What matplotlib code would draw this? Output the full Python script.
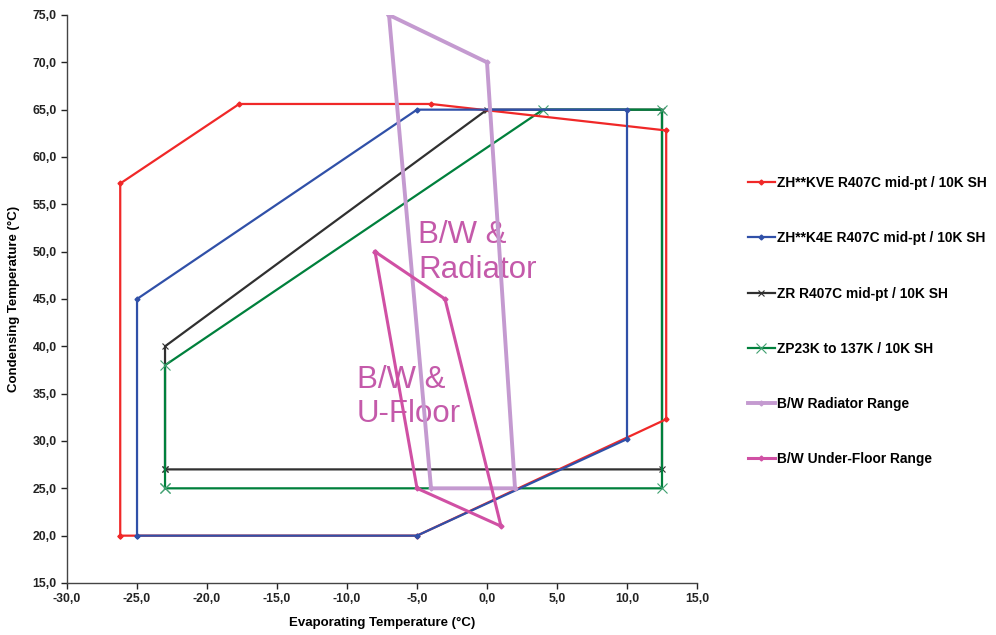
import matplotlib
matplotlib.use("Agg")
import matplotlib.pyplot as plt
from matplotlib.ticker import FuncFormatter

# Envelope outlines: (evaporating, condensing) temperatures in degC
zh_kve_evap = [-26.2, -26.2, -17.7, -4.0, 12.8, 12.8, -5.0, -26.2]
zh_kve_cond = [20.0, 57.2, 65.6, 65.6, 62.8, 32.3, 20.0, 20.0]

zh_k4e_evap = [-25.0, -25.0, -5.0, 10.0, 10.0, -5.0, -25.0]
zh_k4e_cond = [20.0, 45.0, 65.0, 65.0, 30.2, 20.0, 20.0]

zr_evap = [-23.0, -23.0, 0.0, 12.5, 12.5, -23.0]
zr_cond = [27.0, 40.0, 65.0, 65.0, 27.0, 27.0]

zp_evap = [-23.0, -23.0, 4.0, 12.5, 12.5, -23.0]
zp_cond = [25.0, 38.0, 65.0, 65.0, 25.0, 25.0]

radiator_evap = [-7.0, 0.0, 2.0, -4.0, -7.0]
radiator_cond = [75.0, 70.0, 25.0, 25.0, 75.0]

ufloor_evap = [-8.0, -3.0, 1.0, -5.0, -8.0]
ufloor_cond = [50.0, 45.0, 21.0, 25.0, 50.0]

labels = [
    "ZH**KVE R407C mid-pt / 10K SH",
    "ZH**K4E R407C mid-pt / 10K SH",
    "ZR R407C mid-pt / 10K SH",
    "ZP23K to 137K / 10K SH",
    "B/W Radiator Range",
    "B/W Under-Floor Range",
]

plt.rcParams["font.family"] = ["Liberation Sans", "DejaVu Sans"]

fig = plt.figure(figsize=(9.96, 6.35), dpi=100)
ax = fig.add_axes([0.0673, 0.0819, 0.6325, 0.8945])

ax.plot(zh_kve_evap, zh_kve_cond, color="#f02828", lw=1.6, marker="D", ms=2.5, label=labels[0], zorder=3)
ax.plot(zh_k4e_evap, zh_k4e_cond, color="#3050a8", lw=1.6, marker="D", ms=2.5, label=labels[1], zorder=4)
ax.plot(zr_evap, zr_cond, color="#303030", lw=1.6, marker="x", ms=4, mew=0.8, label=labels[2], zorder=2)
ax.plot(zp_evap, zp_cond, color="#00803c", lw=1.6, marker="x", ms=7, mew=0.8,
        markeredgecolor="#40a070", label=labels[3], zorder=2)
ax.plot(radiator_evap, radiator_cond, color="#c49ad0", lw=2.8, marker="D", ms=2.5, label=labels[4], zorder=5)
ax.plot(ufloor_evap, ufloor_cond, color="#d050a4", lw=2.2, marker="D", ms=2.5, label=labels[5], zorder=6)

txt_color = "#c45aaa"
ax.text(-4.9, 53.35, "B/W &\nRadiator", fontsize=22.5, color=txt_color, ha="left", va="top", linespacing=1.2)
ax.text(-9.3, 38.05, "B/W &\nU-Floor", fontsize=22.5, color=txt_color, ha="left", va="top", linespacing=1.2)

ax.set_xlim(-30, 15)
ax.set_ylim(15, 75)
ax.set_xticks(range(-30, 16, 5))
ax.set_yticks(range(15, 76, 5))
fmt = FuncFormatter(lambda v, _: f"{v:.1f}".replace(".", ","))
ax.xaxis.set_major_formatter(fmt)
ax.yaxis.set_major_formatter(fmt)
ax.tick_params(direction="out", length=4, width=1, labelsize=8.8, colors="#222222")
for lab in ax.get_xticklabels() + ax.get_yticklabels():
    lab.set_fontweight("bold")

for side in ("top", "right"):
    ax.spines[side].set_visible(False)
for side in ("left", "bottom"):
    ax.spines[side].set_color("#444444")
    ax.spines[side].set_linewidth(1.0)

ax.set_xlabel("Evaporating Temperature (°C)", fontsize=9.5, fontweight="bold", labelpad=8)
ax.set_ylabel("Condensing Temperature (°C)", fontsize=9.5, fontweight="bold", labelpad=9)

fig.legend(loc="upper left", bbox_to_anchor=(0.751, 0.7228), frameon=False,
           prop={"size": 9.9, "weight": "bold"}, handlelength=1.95, handletextpad=0.15,
           labelspacing=3.0, borderpad=0, borderaxespad=0)

fig.savefig("out.png", dpi=100)
